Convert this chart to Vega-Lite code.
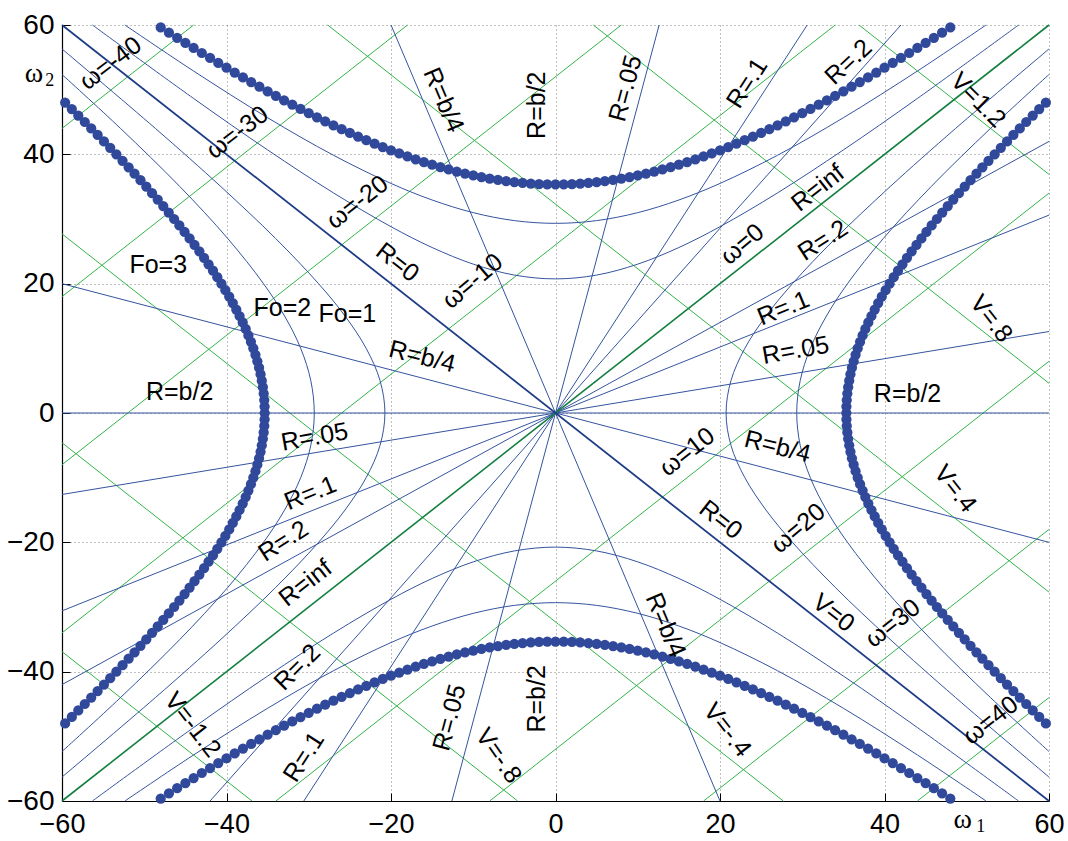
{
"$schema": "https://vega.github.io/schema/vega-lite/v6.json",
"width": 987, "height": 776,
"autosize": {"type": "none"},
"padding": {"left": 62, "top": 25, "right": 19, "bottom": 40},
"background": "white",
"config": {
  "view": {"stroke": null},
  "axis": {"grid": true, "gridDash": [1, 3], "gridColor": "#808080", "gridOpacity": 1, "domainColor": "#000", "domainWidth": 1.2, "tickColor": "#000", "tickSize": -8, "labelFont": "Liberation Sans", "labelFontSize": 27, "labelColor": "#000", "labelFlush": false, "labelOverlap": false, "labelPadding": 18, "title": null},
  "axisY": {"labelPadding": 16, "labelFontSize": 28}
},
"datasets": {
  "gl": [
    {"x": -60, "y": 44, "x2": -44, "y2": 60},
    {"x": -60, "y": 18, "x2": -18, "y2": 60},
    {"x": -60, "y": -8, "x2": 8, "y2": 60},
    {"x": -60, "y": -34, "x2": 34, "y2": 60},
    {"x": -34, "y": -60, "x2": 60, "y2": 34},
    {"x": -8, "y": -60, "x2": 60, "y2": 8},
    {"x": 18, "y": -60, "x2": 60, "y2": -18},
    {"x": 44, "y": -60, "x2": 60, "y2": -44},
    {"x": 36.9, "y": 60, "x2": 60, "y2": 36.9},
    {"x": 4.6, "y": 60, "x2": 60, "y2": 4.6},
    {"x": -27.7, "y": 60, "x2": 60, "y2": -27.7},
    {"x": -60, "y": 27.7, "x2": 27.7, "y2": -60},
    {"x": -60, "y": -4.6, "x2": -4.6, "y2": -60},
    {"x": -60, "y": -36.9, "x2": -36.9, "y2": -60}
  ],
  "rl": [
    {"x": -60, "y": 0, "x2": 60, "y2": 0},
    {"x": -60, "y": 20, "x2": 60, "y2": -20},
    {"x": -20, "y": 60, "x2": 20, "y2": -60},
    {"x": -60, "y": -12.6, "x2": 60, "y2": 12.6},
    {"x": -12.6, "y": -60, "x2": 12.6, "y2": 60},
    {"x": -60, "y": -30.6, "x2": 60, "y2": 30.6},
    {"x": -30.6, "y": -60, "x2": 30.6, "y2": 60},
    {"x": -60, "y": -42, "x2": 60, "y2": 42},
    {"x": -42, "y": -60, "x2": 42, "y2": 60}
  ],
  "hy": [
    {"g":"a","i":0,"x":60,"y":-56.3},{"g":"a","i":1,"x":48.64,"y":-44},{"g":"a","i":2,"x":40.68,"y":-35},{"g":"a","i":3,"x":34.04,"y":-27},{"g":"a","i":4,"x":28.81,"y":-20},{"g":"a","i":5,"x":25.59,"y":-15},{"g":"a","i":6,"x":23.02,"y":-10},{"g":"a","i":7,"x":21.33,"y":-5},{"g":"a","i":8,"x":20.74,"y":0},{"g":"a","i":9,"x":21.33,"y":5},{"g":"a","i":10,"x":23.02,"y":10},{"g":"a","i":11,"x":25.59,"y":15},{"g":"a","i":12,"x":28.81,"y":20},{"g":"a","i":13,"x":34.04,"y":27},{"g":"a","i":14,"x":40.68,"y":35},{"g":"a","i":15,"x":48.64,"y":44},{"g":"a","i":16,"x":60,"y":56.3},
    {"g":"b","i":0,"x":-60,"y":-56.3},{"g":"b","i":1,"x":-48.64,"y":-44},{"g":"b","i":2,"x":-40.68,"y":-35},{"g":"b","i":3,"x":-34.04,"y":-27},{"g":"b","i":4,"x":-28.81,"y":-20},{"g":"b","i":5,"x":-25.59,"y":-15},{"g":"b","i":6,"x":-23.02,"y":-10},{"g":"b","i":7,"x":-21.33,"y":-5},{"g":"b","i":8,"x":-20.74,"y":0},{"g":"b","i":9,"x":-21.33,"y":5},{"g":"b","i":10,"x":-23.02,"y":10},{"g":"b","i":11,"x":-25.59,"y":15},{"g":"b","i":12,"x":-28.81,"y":20},{"g":"b","i":13,"x":-34.04,"y":27},{"g":"b","i":14,"x":-40.68,"y":35},{"g":"b","i":15,"x":-48.64,"y":44},{"g":"b","i":16,"x":-60,"y":56.3},
    {"g":"c","i":0,"y":60,"x":-56.3},{"g":"c","i":1,"y":48.64,"x":-44},{"g":"c","i":2,"y":40.68,"x":-35},{"g":"c","i":3,"y":34.04,"x":-27},{"g":"c","i":4,"y":28.81,"x":-20},{"g":"c","i":5,"y":25.59,"x":-15},{"g":"c","i":6,"y":23.02,"x":-10},{"g":"c","i":7,"y":21.33,"x":-5},{"g":"c","i":8,"y":20.74,"x":0},{"g":"c","i":9,"y":21.33,"x":5},{"g":"c","i":10,"y":23.02,"x":10},{"g":"c","i":11,"y":25.59,"x":15},{"g":"c","i":12,"y":28.81,"x":20},{"g":"c","i":13,"y":34.04,"x":27},{"g":"c","i":14,"y":40.68,"x":35},{"g":"c","i":15,"y":48.64,"x":44},{"g":"c","i":16,"y":60,"x":56.3},
    {"g":"d","i":0,"y":-60,"x":-56.3},{"g":"d","i":1,"y":-48.64,"x":-44},{"g":"d","i":2,"y":-40.68,"x":-35},{"g":"d","i":3,"y":-34.04,"x":-27},{"g":"d","i":4,"y":-28.81,"x":-20},{"g":"d","i":5,"y":-25.59,"x":-15},{"g":"d","i":6,"y":-23.02,"x":-10},{"g":"d","i":7,"y":-21.33,"x":-5},{"g":"d","i":8,"y":-20.74,"x":0},{"g":"d","i":9,"y":-21.33,"x":5},{"g":"d","i":10,"y":-23.02,"x":10},{"g":"d","i":11,"y":-25.59,"x":15},{"g":"d","i":12,"y":-28.81,"x":20},{"g":"d","i":13,"y":-34.04,"x":27},{"g":"d","i":14,"y":-40.68,"x":35},{"g":"d","i":15,"y":-48.64,"x":44},{"g":"d","i":16,"y":-60,"x":56.3},
    {"g":"e","i":0,"x":60,"y":-52.35},{"g":"e","i":1,"x":52.88,"y":-44},{"g":"e","i":2,"x":45.66,"y":-35},{"g":"e","i":3,"x":39.86,"y":-27},{"g":"e","i":4,"x":35.5,"y":-20},{"g":"e","i":5,"x":32.94,"y":-15},{"g":"e","i":6,"x":30.98,"y":-10},{"g":"e","i":7,"x":29.75,"y":-5},{"g":"e","i":8,"x":29.33,"y":0},{"g":"e","i":9,"x":29.75,"y":5},{"g":"e","i":10,"x":30.98,"y":10},{"g":"e","i":11,"x":32.94,"y":15},{"g":"e","i":12,"x":35.5,"y":20},{"g":"e","i":13,"x":39.86,"y":27},{"g":"e","i":14,"x":45.66,"y":35},{"g":"e","i":15,"x":52.88,"y":44},{"g":"e","i":16,"x":60,"y":52.35},
    {"g":"f","i":0,"x":-60,"y":-52.35},{"g":"f","i":1,"x":-52.88,"y":-44},{"g":"f","i":2,"x":-45.66,"y":-35},{"g":"f","i":3,"x":-39.86,"y":-27},{"g":"f","i":4,"x":-35.5,"y":-20},{"g":"f","i":5,"x":-32.94,"y":-15},{"g":"f","i":6,"x":-30.98,"y":-10},{"g":"f","i":7,"x":-29.75,"y":-5},{"g":"f","i":8,"x":-29.33,"y":0},{"g":"f","i":9,"x":-29.75,"y":5},{"g":"f","i":10,"x":-30.98,"y":10},{"g":"f","i":11,"x":-32.94,"y":15},{"g":"f","i":12,"x":-35.5,"y":20},{"g":"f","i":13,"x":-39.86,"y":27},{"g":"f","i":14,"x":-45.66,"y":35},{"g":"f","i":15,"x":-52.88,"y":44},{"g":"f","i":16,"x":-60,"y":52.35},
    {"g":"g","i":0,"y":60,"x":-52.35},{"g":"g","i":1,"y":52.88,"x":-44},{"g":"g","i":2,"y":45.66,"x":-35},{"g":"g","i":3,"y":39.86,"x":-27},{"g":"g","i":4,"y":35.5,"x":-20},{"g":"g","i":5,"y":32.94,"x":-15},{"g":"g","i":6,"y":30.98,"x":-10},{"g":"g","i":7,"y":29.75,"x":-5},{"g":"g","i":8,"y":29.33,"x":0},{"g":"g","i":9,"y":29.75,"x":5},{"g":"g","i":10,"y":30.98,"x":10},{"g":"g","i":11,"y":32.94,"x":15},{"g":"g","i":12,"y":35.5,"x":20},{"g":"g","i":13,"y":39.86,"x":27},{"g":"g","i":14,"y":45.66,"x":35},{"g":"g","i":15,"y":52.88,"x":44},{"g":"g","i":16,"y":60,"x":52.35},
    {"g":"h","i":0,"y":-60,"x":-52.35},{"g":"h","i":1,"y":-52.88,"x":-44},{"g":"h","i":2,"y":-45.66,"x":-35},{"g":"h","i":3,"y":-39.86,"x":-27},{"g":"h","i":4,"y":-35.5,"x":-20},{"g":"h","i":5,"y":-32.94,"x":-15},{"g":"h","i":6,"y":-30.98,"x":-10},{"g":"h","i":7,"y":-29.75,"x":-5},{"g":"h","i":8,"y":-29.33,"x":0},{"g":"h","i":9,"y":-29.75,"x":5},{"g":"h","i":10,"y":-30.98,"x":10},{"g":"h","i":11,"y":-32.94,"x":15},{"g":"h","i":12,"y":-35.5,"x":20},{"g":"h","i":13,"y":-39.86,"x":27},{"g":"h","i":14,"y":-45.66,"x":35},{"g":"h","i":15,"y":-52.88,"x":44},{"g":"h","i":16,"y":-60,"x":52.35}
  ],
  "dots": [
    {"x":35.36,"y":0},{"x":-35.36,"y":0},{"x":0,"y":35.36},{"x":0,"y":-35.36},
    {"x":35.37,"y":1},{"x":-35.37,"y":1},{"x":35.37,"y":-1},{"x":-35.37,"y":-1},{"x":1,"y":35.37},{"x":-1,"y":35.37},{"x":1,"y":-35.37},{"x":-1,"y":-35.37},
    {"x":35.41,"y":2},{"x":-35.41,"y":2},{"x":35.41,"y":-2},{"x":-35.41,"y":-2},{"x":2,"y":35.41},{"x":-2,"y":35.41},{"x":2,"y":-35.41},{"x":-2,"y":-35.41},
    {"x":35.48,"y":3},{"x":-35.48,"y":3},{"x":35.48,"y":-3},{"x":-35.48,"y":-3},{"x":3,"y":35.48},{"x":-3,"y":35.48},{"x":3,"y":-35.48},{"x":-3,"y":-35.48},
    {"x":35.58,"y":4},{"x":-35.58,"y":4},{"x":35.58,"y":-4},{"x":-35.58,"y":-4},{"x":4,"y":35.58},{"x":-4,"y":35.58},{"x":4,"y":-35.58},{"x":-4,"y":-35.58},
    {"x":35.71,"y":5},{"x":-35.71,"y":5},{"x":35.71,"y":-5},{"x":-35.71,"y":-5},{"x":5,"y":35.71},{"x":-5,"y":35.71},{"x":5,"y":-35.71},{"x":-5,"y":-35.71},
    {"x":35.86,"y":6},{"x":-35.86,"y":6},{"x":35.86,"y":-6},{"x":-35.86,"y":-6},{"x":6,"y":35.86},{"x":-6,"y":35.86},{"x":6,"y":-35.86},{"x":-6,"y":-35.86},
    {"x":36.04,"y":7},{"x":-36.04,"y":7},{"x":36.04,"y":-7},{"x":-36.04,"y":-7},{"x":7,"y":36.04},{"x":-7,"y":36.04},{"x":7,"y":-36.04},{"x":-7,"y":-36.04},
    {"x":36.25,"y":8},{"x":-36.25,"y":8},{"x":36.25,"y":-8},{"x":-36.25,"y":-8},{"x":8,"y":36.25},{"x":-8,"y":36.25},{"x":8,"y":-36.25},{"x":-8,"y":-36.25},
    {"x":36.48,"y":9},{"x":-36.48,"y":9},{"x":36.48,"y":-9},{"x":-36.48,"y":-9},{"x":9,"y":36.48},{"x":-9,"y":36.48},{"x":9,"y":-36.48},{"x":-9,"y":-36.48},
    {"x":36.74,"y":10},{"x":-36.74,"y":10},{"x":36.74,"y":-10},{"x":-36.74,"y":-10},{"x":10,"y":36.74},{"x":-10,"y":36.74},{"x":10,"y":-36.74},{"x":-10,"y":-36.74},
    {"x":37.03,"y":11},{"x":-37.03,"y":11},{"x":37.03,"y":-11},{"x":-37.03,"y":-11},{"x":11,"y":37.03},{"x":-11,"y":37.03},{"x":11,"y":-37.03},{"x":-11,"y":-37.03},
    {"x":37.34,"y":12},{"x":-37.34,"y":12},{"x":37.34,"y":-12},{"x":-37.34,"y":-12},{"x":12,"y":37.34},{"x":-12,"y":37.34},{"x":12,"y":-37.34},{"x":-12,"y":-37.34},
    {"x":37.67,"y":13},{"x":-37.67,"y":13},{"x":37.67,"y":-13},{"x":-37.67,"y":-13},{"x":13,"y":37.67},{"x":-13,"y":37.67},{"x":13,"y":-37.67},{"x":-13,"y":-37.67},
    {"x":38.03,"y":14},{"x":-38.03,"y":14},{"x":38.03,"y":-14},{"x":-38.03,"y":-14},{"x":14,"y":38.03},{"x":-14,"y":38.03},{"x":14,"y":-38.03},{"x":-14,"y":-38.03},
    {"x":38.41,"y":15},{"x":-38.41,"y":15},{"x":38.41,"y":-15},{"x":-38.41,"y":-15},{"x":15,"y":38.41},{"x":-15,"y":38.41},{"x":15,"y":-38.41},{"x":-15,"y":-38.41},
    {"x":38.81,"y":16},{"x":-38.81,"y":16},{"x":38.81,"y":-16},{"x":-38.81,"y":-16},{"x":16,"y":38.81},{"x":-16,"y":38.81},{"x":16,"y":-38.81},{"x":-16,"y":-38.81},
    {"x":39.23,"y":17},{"x":-39.23,"y":17},{"x":39.23,"y":-17},{"x":-39.23,"y":-17},{"x":17,"y":39.23},{"x":-17,"y":39.23},{"x":17,"y":-39.23},{"x":-17,"y":-39.23},
    {"x":39.67,"y":18},{"x":-39.67,"y":18},{"x":39.67,"y":-18},{"x":-39.67,"y":-18},{"x":18,"y":39.67},{"x":-18,"y":39.67},{"x":18,"y":-39.67},{"x":-18,"y":-39.67},
    {"x":40.14,"y":19},{"x":-40.14,"y":19},{"x":40.14,"y":-19},{"x":-40.14,"y":-19},{"x":19,"y":40.14},{"x":-19,"y":40.14},{"x":19,"y":-40.14},{"x":-19,"y":-40.14},
    {"x":40.62,"y":20},{"x":-40.62,"y":20},{"x":40.62,"y":-20},{"x":-40.62,"y":-20},{"x":20,"y":40.62},{"x":-20,"y":40.62},{"x":20,"y":-40.62},{"x":-20,"y":-40.62},
    {"x":41.12,"y":21},{"x":-41.12,"y":21},{"x":41.12,"y":-21},{"x":-41.12,"y":-21},{"x":21,"y":41.12},{"x":-21,"y":41.12},{"x":21,"y":-41.12},{"x":-21,"y":-41.12},
    {"x":41.64,"y":22},{"x":-41.64,"y":22},{"x":41.64,"y":-22},{"x":-41.64,"y":-22},{"x":22,"y":41.64},{"x":-22,"y":41.64},{"x":22,"y":-41.64},{"x":-22,"y":-41.64},
    {"x":42.18,"y":23},{"x":-42.18,"y":23},{"x":42.18,"y":-23},{"x":-42.18,"y":-23},{"x":23,"y":42.18},{"x":-23,"y":42.18},{"x":23,"y":-42.18},{"x":-23,"y":-42.18},
    {"x":42.73,"y":24},{"x":-42.73,"y":24},{"x":42.73,"y":-24},{"x":-42.73,"y":-24},{"x":24,"y":42.73},{"x":-24,"y":42.73},{"x":24,"y":-42.73},{"x":-24,"y":-42.73},
    {"x":43.3,"y":25},{"x":-43.3,"y":25},{"x":43.3,"y":-25},{"x":-43.3,"y":-25},{"x":25,"y":43.3},{"x":-25,"y":43.3},{"x":25,"y":-43.3},{"x":-25,"y":-43.3},
    {"x":43.89,"y":26},{"x":-43.89,"y":26},{"x":43.89,"y":-26},{"x":-43.89,"y":-26},{"x":26,"y":43.89},{"x":-26,"y":43.89},{"x":26,"y":-43.89},{"x":-26,"y":-43.89},
    {"x":44.49,"y":27},{"x":-44.49,"y":27},{"x":44.49,"y":-27},{"x":-44.49,"y":-27},{"x":27,"y":44.49},{"x":-27,"y":44.49},{"x":27,"y":-44.49},{"x":-27,"y":-44.49},
    {"x":45.1,"y":28},{"x":-45.1,"y":28},{"x":45.1,"y":-28},{"x":-45.1,"y":-28},{"x":28,"y":45.1},{"x":-28,"y":45.1},{"x":28,"y":-45.1},{"x":-28,"y":-45.1},
    {"x":45.73,"y":29},{"x":-45.73,"y":29},{"x":45.73,"y":-29},{"x":-45.73,"y":-29},{"x":29,"y":45.73},{"x":-29,"y":45.73},{"x":29,"y":-45.73},{"x":-29,"y":-45.73},
    {"x":46.37,"y":30},{"x":-46.37,"y":30},{"x":46.37,"y":-30},{"x":-46.37,"y":-30},{"x":30,"y":46.37},{"x":-30,"y":46.37},{"x":30,"y":-46.37},{"x":-30,"y":-46.37},
    {"x":47.02,"y":31},{"x":-47.02,"y":31},{"x":47.02,"y":-31},{"x":-47.02,"y":-31},{"x":31,"y":47.02},{"x":-31,"y":47.02},{"x":31,"y":-47.02},{"x":-31,"y":-47.02},
    {"x":47.69,"y":32},{"x":-47.69,"y":32},{"x":47.69,"y":-32},{"x":-47.69,"y":-32},{"x":32,"y":47.69},{"x":-32,"y":47.69},{"x":32,"y":-47.69},{"x":-32,"y":-47.69},
    {"x":48.36,"y":33},{"x":-48.36,"y":33},{"x":48.36,"y":-33},{"x":-48.36,"y":-33},{"x":33,"y":48.36},{"x":-33,"y":48.36},{"x":33,"y":-48.36},{"x":-33,"y":-48.36},
    {"x":49.05,"y":34},{"x":-49.05,"y":34},{"x":49.05,"y":-34},{"x":-49.05,"y":-34},{"x":34,"y":49.05},{"x":-34,"y":49.05},{"x":34,"y":-49.05},{"x":-34,"y":-49.05},
    {"x":49.75,"y":35},{"x":-49.75,"y":35},{"x":49.75,"y":-35},{"x":-49.75,"y":-35},{"x":35,"y":49.75},{"x":-35,"y":49.75},{"x":35,"y":-49.75},{"x":-35,"y":-49.75},
    {"x":50.46,"y":36},{"x":-50.46,"y":36},{"x":50.46,"y":-36},{"x":-50.46,"y":-36},{"x":36,"y":50.46},{"x":-36,"y":50.46},{"x":36,"y":-50.46},{"x":-36,"y":-50.46},
    {"x":51.18,"y":37},{"x":-51.18,"y":37},{"x":51.18,"y":-37},{"x":-51.18,"y":-37},{"x":37,"y":51.18},{"x":-37,"y":51.18},{"x":37,"y":-51.18},{"x":-37,"y":-51.18},
    {"x":51.9,"y":38},{"x":-51.9,"y":38},{"x":51.9,"y":-38},{"x":-51.9,"y":-38},{"x":38,"y":51.9},{"x":-38,"y":51.9},{"x":38,"y":-51.9},{"x":-38,"y":-51.9},
    {"x":52.64,"y":39},{"x":-52.64,"y":39},{"x":52.64,"y":-39},{"x":-52.64,"y":-39},{"x":39,"y":52.64},{"x":-39,"y":52.64},{"x":39,"y":-52.64},{"x":-39,"y":-52.64},
    {"x":53.39,"y":40},{"x":-53.39,"y":40},{"x":53.39,"y":-40},{"x":-53.39,"y":-40},{"x":40,"y":53.39},{"x":-40,"y":53.39},{"x":40,"y":-53.39},{"x":-40,"y":-53.39},
    {"x":54.14,"y":41},{"x":-54.14,"y":41},{"x":54.14,"y":-41},{"x":-54.14,"y":-41},{"x":41,"y":54.14},{"x":-41,"y":54.14},{"x":41,"y":-54.14},{"x":-41,"y":-54.14},
    {"x":54.9,"y":42},{"x":-54.9,"y":42},{"x":54.9,"y":-42},{"x":-54.9,"y":-42},{"x":42,"y":54.9},{"x":-42,"y":54.9},{"x":42,"y":-54.9},{"x":-42,"y":-54.9},
    {"x":55.67,"y":43},{"x":-55.67,"y":43},{"x":55.67,"y":-43},{"x":-55.67,"y":-43},{"x":43,"y":55.67},{"x":-43,"y":55.67},{"x":43,"y":-55.67},{"x":-43,"y":-55.67},
    {"x":56.45,"y":44},{"x":-56.45,"y":44},{"x":56.45,"y":-44},{"x":-56.45,"y":-44},{"x":44,"y":56.45},{"x":-44,"y":56.45},{"x":44,"y":-56.45},{"x":-44,"y":-56.45},
    {"x":57.23,"y":45},{"x":-57.23,"y":45},{"x":57.23,"y":-45},{"x":-57.23,"y":-45},{"x":45,"y":57.23},{"x":-45,"y":57.23},{"x":45,"y":-57.23},{"x":-45,"y":-57.23},
    {"x":58.02,"y":46},{"x":-58.02,"y":46},{"x":58.02,"y":-46},{"x":-58.02,"y":-46},{"x":46,"y":58.02},{"x":-46,"y":58.02},{"x":46,"y":-58.02},{"x":-46,"y":-58.02},
    {"x":58.81,"y":47},{"x":-58.81,"y":47},{"x":58.81,"y":-47},{"x":-58.81,"y":-47},{"x":47,"y":58.81},{"x":-47,"y":58.81},{"x":47,"y":-58.81},{"x":-47,"y":-58.81},
    {"x":59.62,"y":48},{"x":-59.62,"y":48},{"x":59.62,"y":-48},{"x":-59.62,"y":-48},{"x":48,"y":59.62},{"x":-48,"y":59.62},{"x":48,"y":-59.62},{"x":-48,"y":-59.62}
  ],
  "lab": [
    {"t":"ω=-40","x":-54.1,"y":54.1,"a":-37},
    {"t":"ω=-30","x":-38.7,"y":43.4,"a":-37},
    {"t":"ω=-20","x":-24.1,"y":32.6,"a":-38},
    {"t":"ω=-10","x":-10.1,"y":20.4,"a":-40},
    {"t":"ω=0","x":22.7,"y":26.1,"a":-40},
    {"t":"ω=10","x":16.0,"y":-6.0,"a":-38},
    {"t":"ω=20","x":29.5,"y":-17.8,"a":-40},
    {"t":"ω=30","x":41.0,"y":-32.5,"a":-38},
    {"t":"ω=40","x":52.9,"y":-47.5,"a":-38},
    {"t":"R=0","x":-19.2,"y":23.3,"a":38},
    {"t":"R=0","x":20.1,"y":-16.5,"a":38},
    {"t":"V=0","x":33.8,"y":-30.9,"a":38},
    {"t":"R=b/4","x":-13.6,"y":48.4,"a":67},
    {"t":"R=b/2","x":-2.2,"y":47.6,"a":-90},
    {"t":"R=.05","x":8.5,"y":50.2,"a":-75},
    {"t":"R=.1","x":23.3,"y":51.0,"a":-57},
    {"t":"R=.2","x":35.6,"y":54.3,"a":-43},
    {"t":"V=1.2","x":51.4,"y":48.4,"a":45},
    {"t":"R=inf","x":31.9,"y":34.8,"a":-38},
    {"t":"R=.2","x":32.5,"y":26.7,"a":-33},
    {"t":"R=.1","x":27.7,"y":16.2,"a":-22},
    {"t":"R=.05","x":29.2,"y":9.7,"a":-10},
    {"t":"R=b/2","x":42.8,"y":2.9,"a":0},
    {"t":"R=b/4","x":27.0,"y":-5.2,"a":14},
    {"t":"V=.8","x":53.0,"y":14.6,"a":52},
    {"t":"V=.4","x":48.6,"y":-11.7,"a":52},
    {"t":"Fo=3","x":-48.3,"y":22.9,"a":0},
    {"t":"Fo=2","x":-33.2,"y":16.2,"a":0},
    {"t":"Fo=1","x":-25.3,"y":15.3,"a":0},
    {"t":"R=b/2","x":-45.7,"y":3.2,"a":0},
    {"t":"R=b/4","x":-16.2,"y":8.7,"a":14},
    {"t":"R=.05","x":-29.3,"y":-3.7,"a":-10},
    {"t":"R=.1","x":-29.8,"y":-12.4,"a":-22},
    {"t":"R=.2","x":-33.1,"y":-19.8,"a":-33},
    {"t":"R=inf","x":-30.4,"y":-26.3,"a":-38},
    {"t":"R=.2","x":-31.4,"y":-39.3,"a":-45},
    {"t":"V=-1.2","x":-44.1,"y":-48.2,"a":52},
    {"t":"R=.1","x":-30.6,"y":-53.2,"a":-57},
    {"t":"R=.05","x":-12.9,"y":-47.1,"a":-75},
    {"t":"V=-.8","x":-6.9,"y":-53.0,"a":55},
    {"t":"R=b/2","x":-2.2,"y":-44.2,"a":-90},
    {"t":"R=b/4","x":13.4,"y":-32.8,"a":67},
    {"t":"V=-.4","x":20.9,"y":-49.0,"a":52}
  ]
},
"encoding": {
  "x": {"field": "x", "type": "quantitative", "scale": {"domain": [-60, 60], "nice": false, "zero": false}, "axis": {"values": [-60, -40, -20, 0, 20, 40, 60], "title": null}},
  "y": {"field": "y", "type": "quantitative", "scale": {"domain": [-60, 60], "nice": false, "zero": false}, "axis": {"values": [-60, -40, -20, 0, 20, 40, 60], "title": null}}
},
"layer": [
  {"data": {"name": "gl"}, "mark": {"type": "rule", "color": "#33b44a", "strokeWidth": 1}, "encoding": {"x2": {"field": "x2"}, "y2": {"field": "y2"}}},
  {"data": {"name": "rl"}, "mark": {"type": "rule", "color": "#34549f", "strokeWidth": 1}, "encoding": {"x2": {"field": "x2"}, "y2": {"field": "y2"}}},
  {"data": {"values": [{"x": -60, "y": -60, "x2": 60, "y2": 60}]}, "mark": {"type": "rule", "color": "#127f3f", "strokeWidth": 1.6}, "encoding": {"x2": {"field": "x2"}, "y2": {"field": "y2"}}},
  {"data": {"values": [{"x": -60, "y": 60, "x2": 60, "y2": -60}]}, "mark": {"type": "rule", "color": "#1e3c86", "strokeWidth": 1.8}, "encoding": {"x2": {"field": "x2"}, "y2": {"field": "y2"}}},
  {"data": {"name": "hy"}, "mark": {"type": "line", "color": "#34549f", "strokeWidth": 1, "interpolate": "catmull-rom"}, "encoding": {"detail": {"field": "g"}, "order": {"field": "i", "type": "quantitative"}}},
  {"data": {"name": "dots"}, "mark": {"type": "point", "filled": true, "shape": "circle", "size": 105, "color": "#31499a", "opacity": 1}},
  {"data": {"name": "lab"}, "mark": {"type": "text", "font": "Liberation Sans", "fontSize": 25, "color": "#000", "align": "center", "baseline": "middle"}, "encoding": {"text": {"field": "t"}, "angle": {"field": "a", "type": "quantitative", "scale": null}}},
  {"data": {"values": [{"x": -63.4, "y": 52.5, "t": "ω"}, {"x": 49.5, "y": -62.9, "t": "ω"}]}, "mark": {"type": "text", "font": "Liberation Serif", "fontSize": 28, "color": "#000", "align": "center", "baseline": "middle"}, "encoding": {"text": {"field": "t"}}},
  {"data": {"values": [{"x": -61.5, "y": 51.3, "t": "2"}, {"x": 51.7, "y": -64.0, "t": "1"}]}, "mark": {"type": "text", "font": "Liberation Serif", "fontSize": 18, "color": "#000", "align": "center", "baseline": "middle"}, "encoding": {"text": {"field": "t"}}}
]
}
